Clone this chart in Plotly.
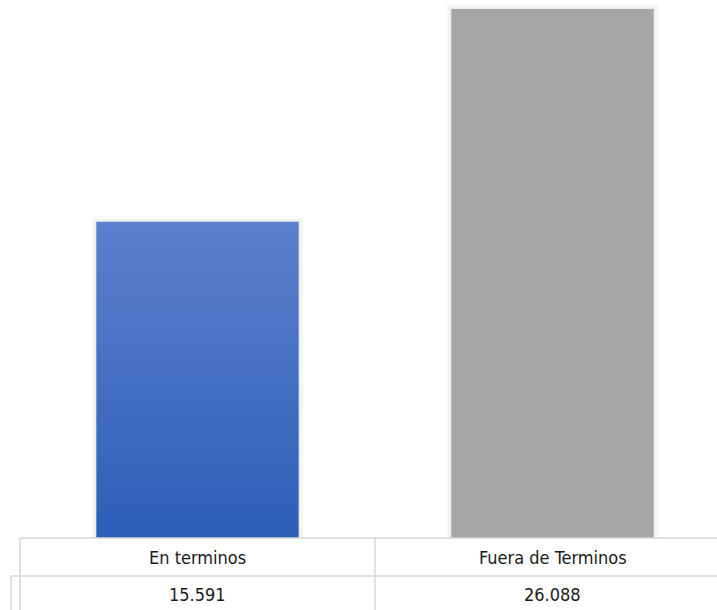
import plotly.graph_objects as go

# Data
categories = ["En terminos", "Fuera de Terminos"]
values = [15591, 26088]

# Styling
bar_width = 0.57
blue_bottom = "#2d5fb8"
blue_top = "#5b80cc"
gray = "#a5a5a5"
grid_color = "#d6d6d6"
font_family = "Liberation Sans Narrow, Arial Narrow, DejaVu Sans Condensed, sans-serif"

W, H = 717, 610
plot_bottom_px = 538  # bottom of the bar area, table sits below
table_mid_px = 576
x_unit_px = 355.0
x0_px = 197.5

fig = go.Figure()

for i, (cat, v) in enumerate(zip(categories, values)):
    xs = [i - bar_width / 2, i - bar_width / 2, i + bar_width / 2, i + bar_width / 2, i - bar_width / 2]
    ys = [0, v, v, 0, 0]
    # soft glow around the column, built from a few faint strokes
    for w, a in [(11, 0.018), (7, 0.022), (3, 0.03)]:
        fig.add_trace(go.Scatter(
            x=xs, y=ys, mode="lines",
            line=dict(color=f"rgba(0,0,0,{a})", width=w),
            hoverinfo="skip", showlegend=False,
        ))
    if i == 0:
        fig.add_trace(go.Scatter(
            x=xs, y=ys, mode="none", fill="toself", name=cat,
            fillgradient=dict(type="vertical", start=0, stop=v,
                              colorscale=[[0, blue_bottom], [1, blue_top]]),
            showlegend=False,
        ))
    else:
        fig.add_trace(go.Scatter(
            x=xs, y=ys, mode="none", fill="toself", name=cat,
            fillcolor=gray, showlegend=False,
        ))

y_dom0 = (H - plot_bottom_px) / H
y_max = max(values) * plot_bottom_px / (plot_bottom_px - 9)

fig.update_layout(
    width=W, height=H,
    margin=dict(l=0, r=0, t=0, b=0),
    paper_bgcolor="white", plot_bgcolor="white",
    xaxis=dict(range=[-x0_px / x_unit_px, (W - x0_px) / x_unit_px],
               visible=False, domain=[0, 1]),
    yaxis=dict(range=[0, y_max], visible=False, domain=[y_dom0, 1]),
)

# Data table beneath the columns
def px_x(p):
    return p / W

def px_y(p):
    return 1 - p / H

line_style = dict(color=grid_color, width=1.5)
table_lines = [
    (20, plot_bottom_px, W, plot_bottom_px),
    (20, plot_bottom_px, 20, H),
    (375, plot_bottom_px, 375, H),
    (11, table_mid_px, W, table_mid_px),
    (11, table_mid_px, 11, H),
]
for x0, y0, x1, y1 in table_lines:
    fig.add_shape(type="line", xref="paper", yref="paper",
                  x0=px_x(x0), y0=px_y(y0), x1=px_x(x1), y1=px_y(y1),
                  line=line_style)

text_font = dict(family=font_family, size=18, color="#1a1a1a")
for i, (cat, v) in enumerate(zip(categories, values)):
    fig.add_annotation(x=i, xref="x", y=px_y(557.5), yref="paper",
                       xanchor="center", yanchor="middle",
                       text=cat, showarrow=False, font=text_font)
    fig.add_annotation(x=i, xref="x", y=px_y(594), yref="paper",
                       xanchor="center", yanchor="middle",
                       text=f"{v:,}".replace(",", "."), showarrow=False,
                       font=text_font)

fig.write_html("out.html")
